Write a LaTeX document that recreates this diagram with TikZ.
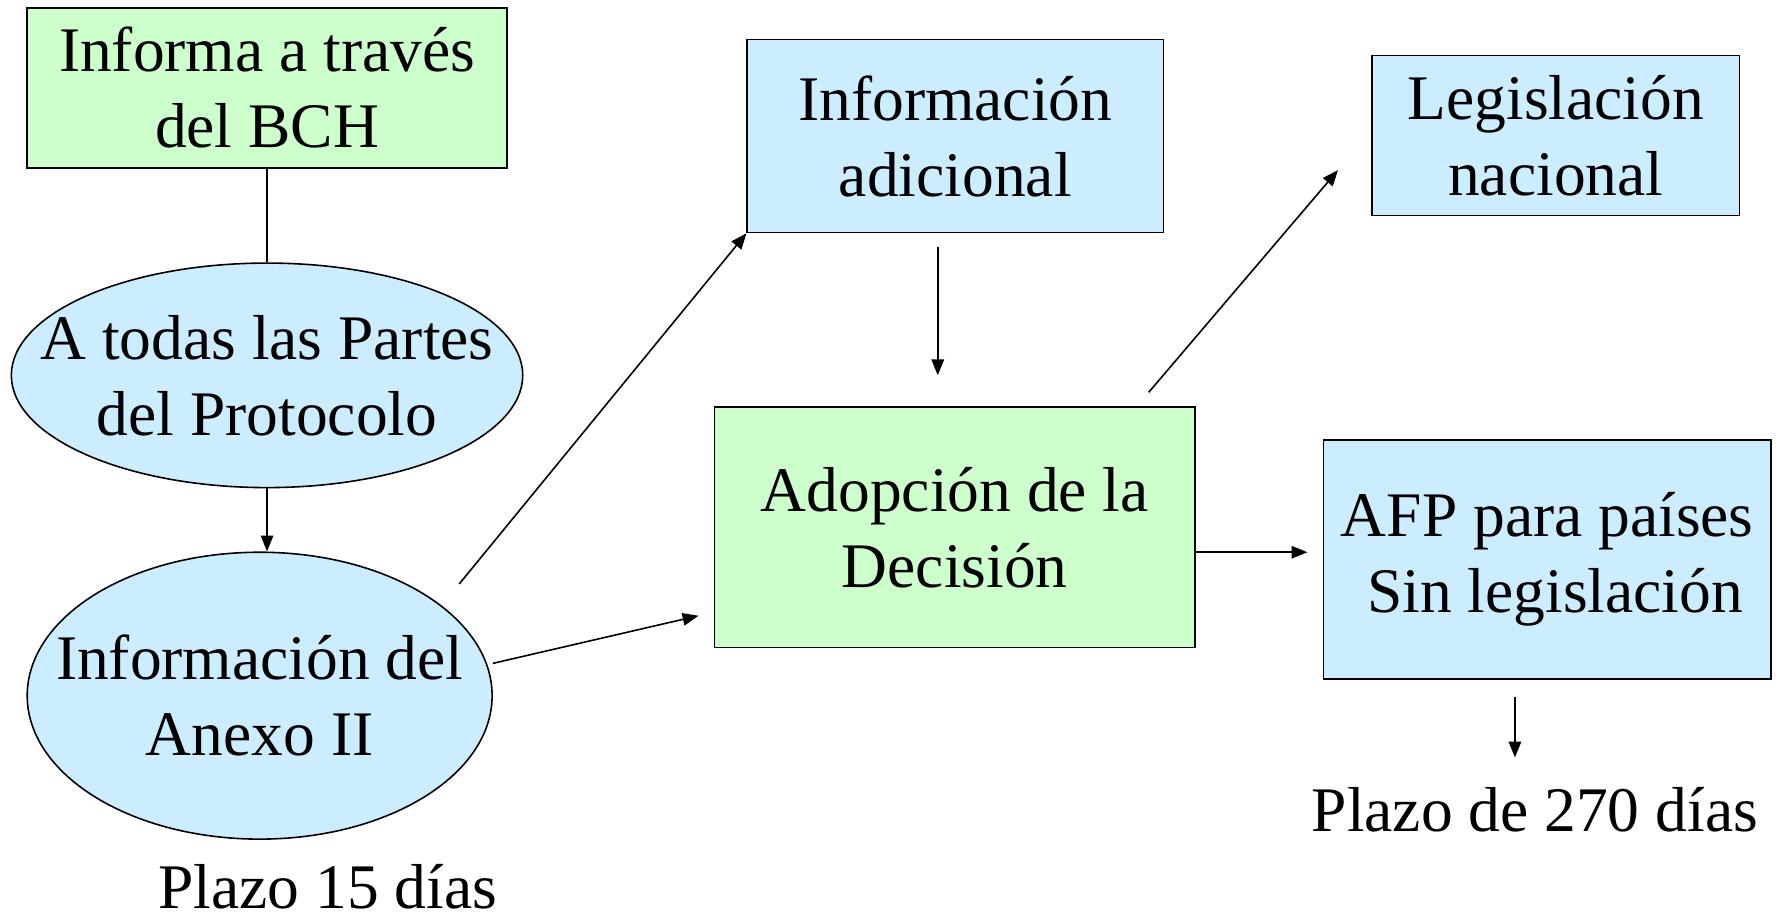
\documentclass[tikz,border=0pt]{standalone}
\usepackage{fontspec}
\setmainfont{Liberation Serif}
\usepackage{tikz}
\usetikzlibrary{arrows.meta,shapes.geometric}
\definecolor{boxgreen}{HTML}{CCFFCC}
\definecolor{boxblue}{HTML}{CCECFF}

\begin{document}
\begin{tikzpicture}[x=1pt,y=-1pt,font=\fontsize{56}{67}\selectfont]
		\useasboundingbox (0,0) rectangle (1568,806);
		\begin{scope}[every node/.style={draw=black,line width=1.4pt,inner sep=0pt,align=center}]
		    \node[rectangle,fill=boxgreen,minimum width=423pt,minimum height=141pt] (bch) at (235.5,77.5) {Informa a través\\del BCH};
		    \node[ellipse,fill=boxblue,minimum width=451pt,minimum height=198pt,
		          label={[draw=none,align=center]center:A todas las Partes\\del Protocolo}] (partes) at (235.5,331) {};
		    \node[ellipse,fill=boxblue,minimum width=410pt,minimum height=253pt,
		          label={[draw=none,align=center]center:Información del\\Anexo II}] (anexo) at (229,613.5) {};
		    \node[rectangle,fill=boxblue,minimum width=367pt,minimum height=170pt] (adicional) at (842.5,120) {Información\\adicional};
		    \node[rectangle,fill=boxgreen,minimum width=424pt,minimum height=212pt] (adopcion) at (842,465) {Adopción de la\\Decisión};
		    \node[rectangle,fill=boxblue,minimum width=324pt,minimum height=141pt] (legislacion) at (1372,119.5) {Legislación\\nacional};
		    \node[rectangle,fill=boxblue,minimum width=395pt,minimum height=211pt] (afp) at (1364.5,493.5) {AFP para países\\\ Sin legislación};
		\end{scope}

		\node[anchor=base,inner sep=0pt] (plazoa) at (289,801) {Plazo 15 días};
		\node[anchor=base,inner sep=0pt] (plazob) at (1353.5,733) {Plazo de 270 días};

		\coordinate (a1) at (405,515);
		\coordinate (a2) at (616,543);
		\coordinate (b1) at (827,218);
		\coordinate (b2) at (827,331);
		\coordinate (c1) at (1013,346);
		\coordinate (c2) at (1180,150);
		\coordinate (d1) at (1054,487);
		\coordinate (d2) at (1153,487);
		\coordinate (e1) at (1336,615);
		\coordinate (e2) at (1336,668);

		\begin{scope}[>={Triangle[length=14pt,width=11pt]},
		              every edge/.style={draw=black,line width=1.4pt}]
		    \path (bch) edge (partes);
		    \path (partes.south) edge[->] (partes.south |- anexo.north);
		    \path (a1) edge[->] (adicional.south west);
		    \path (anexo.east |- 0,585) edge[->] (a2);
		    \path (b1) edge[->] (b2);
		    \path (c1) edge[->] (c2);
		    \path (d1) edge[->] (d2);
		    \path (e1) edge[->] (e2);
		\end{scope}
\end{tikzpicture}
\end{document}
